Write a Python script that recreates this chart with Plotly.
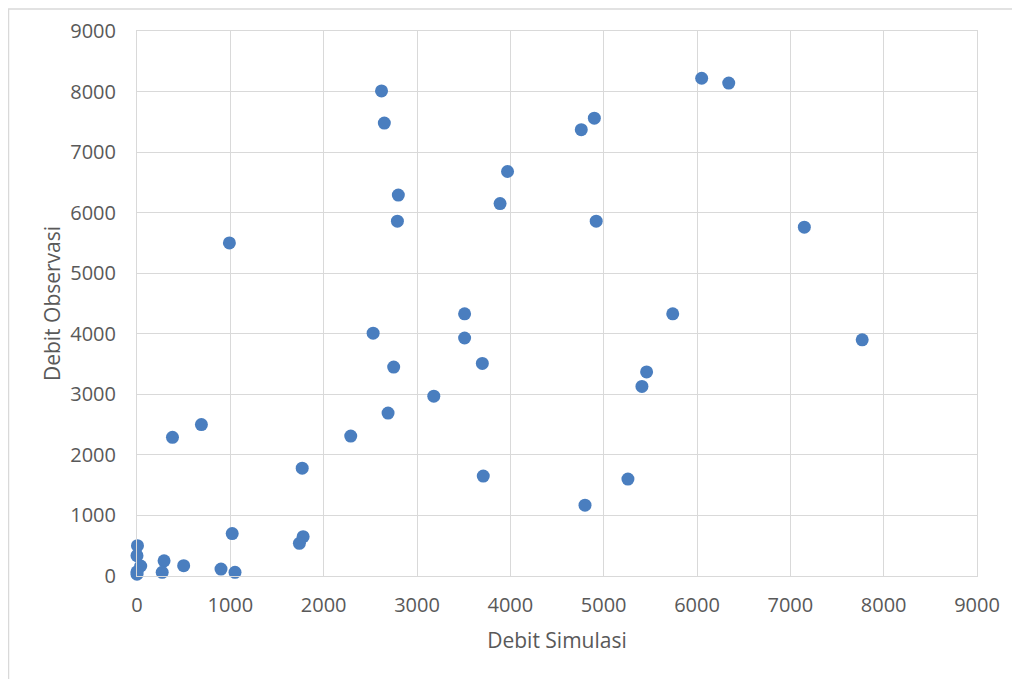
import plotly.graph_objects as go

debit_simulasi = [
    2620, 2650, 2800, 2790, 3970, 3890, 4900, 4760, 4920,
    3510, 2530, 3510, 2750, 3700, 3180, 2690, 2290, 3710, 4800, 5260,
    5740, 5460, 5410, 6050, 6340, 7150, 990, 7770,
    380, 690, 1770, 1020, 1780, 1740,
    5, 0, 40, 0, 0, 290, 270, 500, 900, 1050,
]
debit_observasi = [
    8010, 7480, 6290, 5860, 6680, 6150, 7560, 7370, 5860,
    4330, 4010, 3930, 3450, 3510, 2970, 2690, 2310, 1650, 1170, 1600,
    4330, 3370, 3130, 8220, 8140, 5760, 5500, 3900,
    2290, 2500, 1780, 700, 650, 540,
    500, 335, 165, 70, 30, 250, 60, 170, 115, 60,
]
tick_vals = [0, 1000, 2000, 3000, 4000, 5000, 6000, 7000, 8000, 9000]

FONT = "Open Sans"
TXT = "#595959"
GRID = "#D9D9D9"

fig = go.Figure(
    go.Scatter(
        x=debit_simulasi,
        y=debit_observasi,
        mode="markers",
        marker=dict(size=13, color="#4A7EBF"),
        cliponaxis=False,
        hoverinfo="x+y",
    )
)

axis_common = dict(
    range=[0, 9000],
    tickvals=tick_vals,
    showgrid=True,
    gridcolor=GRID,
    gridwidth=1,
    zeroline=False,
    showline=True,
    linecolor=GRID,
    linewidth=1,
    mirror=True,
    ticks="",
    tickfont=dict(family=FONT, size=20, color=TXT),
    fixedrange=True,
    automargin=False,
)

# page body has an 8px margin, so the figure starts at (8, 8)
fig.update_layout(
    width=1012,
    height=671,
    margin=dict(l=129, r=43, t=23, b=103, autoexpand=False),
    paper_bgcolor="white",
    plot_bgcolor="white",
    showlegend=False,
    xaxis=dict(
        **axis_common,
        ticklabelstandoff=11,
        title=dict(text="Debit Simulasi", font=dict(family=FONT, size=21, color=TXT), standoff=16),
    ),
    yaxis=dict(
        **axis_common,
        ticklabelstandoff=16,
        title=dict(text="Debit Observasi", font=dict(family=FONT, size=21, color=TXT), standoff=3),
    ),
    shapes=[
        dict(
            type="rect", xref="paper", yref="paper",
            x0=-128.5 / 840, x1=(1030 - 137) / 840,
            y0=(576 - 690) / 545, y1=(576 - 9) / 545,
            line=dict(color=GRID, width=1.5), fillcolor="rgba(0,0,0,0)",
            layer="below",
        )
    ],
)

fig.write_html("out.html")
